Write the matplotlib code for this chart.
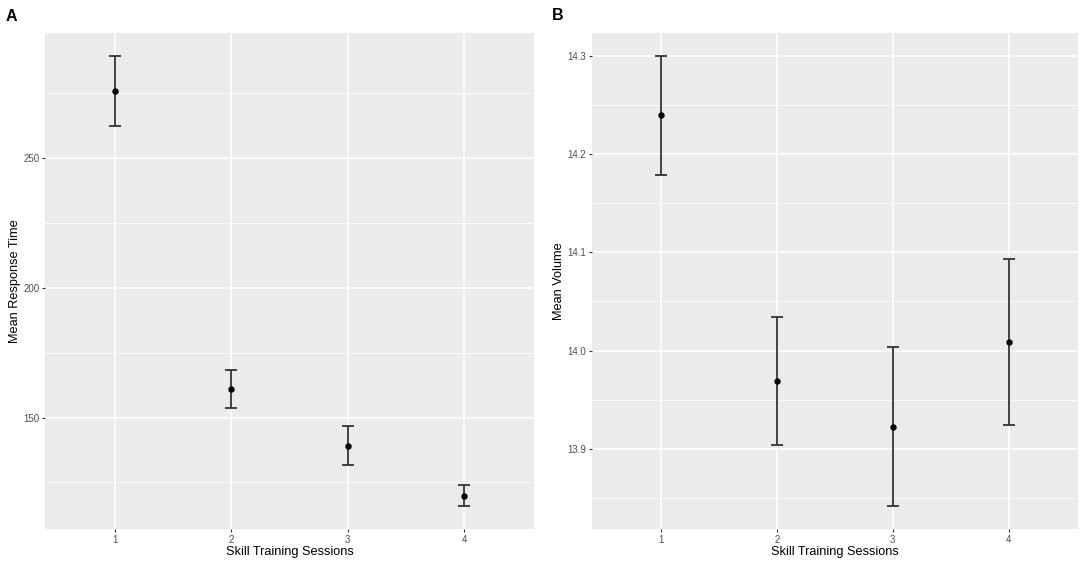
import matplotlib
matplotlib.use('Agg')
from matplotlib import pyplot as plt

plt.rcParams['font.family'] = ['Liberation Sans', 'DejaVu Sans']

sessions = [1, 2, 3, 4]

# panel A: mean response time
rt_mean = [276.0, 161.0, 139.2, 119.7]
rt_low = [262.4, 153.8, 131.8, 115.7]
rt_high = [289.6, 168.2, 146.8, 123.8]

# panel B: mean volume
vol_mean = [14.2396, 13.9692, 13.9223, 14.0084]
vol_low = [14.1788, 13.9040, 13.8414, 13.9245]
vol_high = [14.3000, 14.0344, 14.0033, 14.0930]

W, H = 1084, 565
fig = plt.figure(figsize=(W / 100, H / 100), dpi=100)

def gg_axes(rect, ylabel, mean, low, high, major, minor, fmt):
    ax = fig.add_axes(rect)
    ax.set_facecolor('#EBEBEB')
    for s in ax.spines.values():
        s.set_visible(False)
    yerr = [[m - l for m, l in zip(mean, low)], [h - m for m, h in zip(mean, high)]]
    ax.errorbar(sessions, mean, yerr=yerr, fmt='o', color='black', ecolor='#333333',
                elinewidth=1.3, capsize=4.3, capthick=1.3, markersize=3.6, zorder=3)
    lo, hi = min(low), max(high)
    pad = (hi - lo) * 0.05
    ax.set_ylim(lo - pad, hi + pad)
    ax.set_xlim(0.4, 4.6)
    ax.set_xticks(sessions)
    ax.set_xticklabels([str(s) for s in sessions])
    ax.set_yticks(major)
    ax.set_yticklabels([fmt.format(v) for v in major])
    ax.set_yticks(minor, minor=True)
    ax.grid(True, which='major', color='white', linewidth=1.1, zorder=0)
    ax.grid(True, which='minor', color='white', linewidth=0.55, zorder=0)
    ax.set_axisbelow(True)
    ax.tick_params(axis='both', which='major', colors='#333333', length=2.5, width=0.8,
                   labelsize=7, labelcolor='#4D4D4D', pad=1.5)
    ax.tick_params(axis='both', which='minor', length=0)
    ax.set_xlabel('Skill Training Sessions', fontsize=9.2, labelpad=1)
    ax.set_ylabel(ylabel, fontsize=9.2, labelpad=2)
    return ax

gg_axes([45 / W, 1 - 529 / H, (534 - 45) / W, (529 - 33) / H], 'Mean Response Time',
        rt_mean, rt_low, rt_high, [150, 200, 250], [125, 175, 225, 275], '{:d}')
gg_axes([592 / W, 1 - 529 / H, (1078 - 592) / W, (529 - 33) / H], 'Mean Volume',
        vol_mean, vol_low, vol_high, [13.9, 14.0, 14.1, 14.2, 14.3],
        [13.85, 13.95, 14.05, 14.15, 14.25], '{:.1f}')

fig.text(6 / W, 1 - 16.5 / H, 'A', fontsize=11.5, fontweight='bold', va='center')
fig.text(552 / W, 1 - 16 / H, 'B', fontsize=11.5, fontweight='bold', va='center')

fig.savefig('out.png', dpi=100)
